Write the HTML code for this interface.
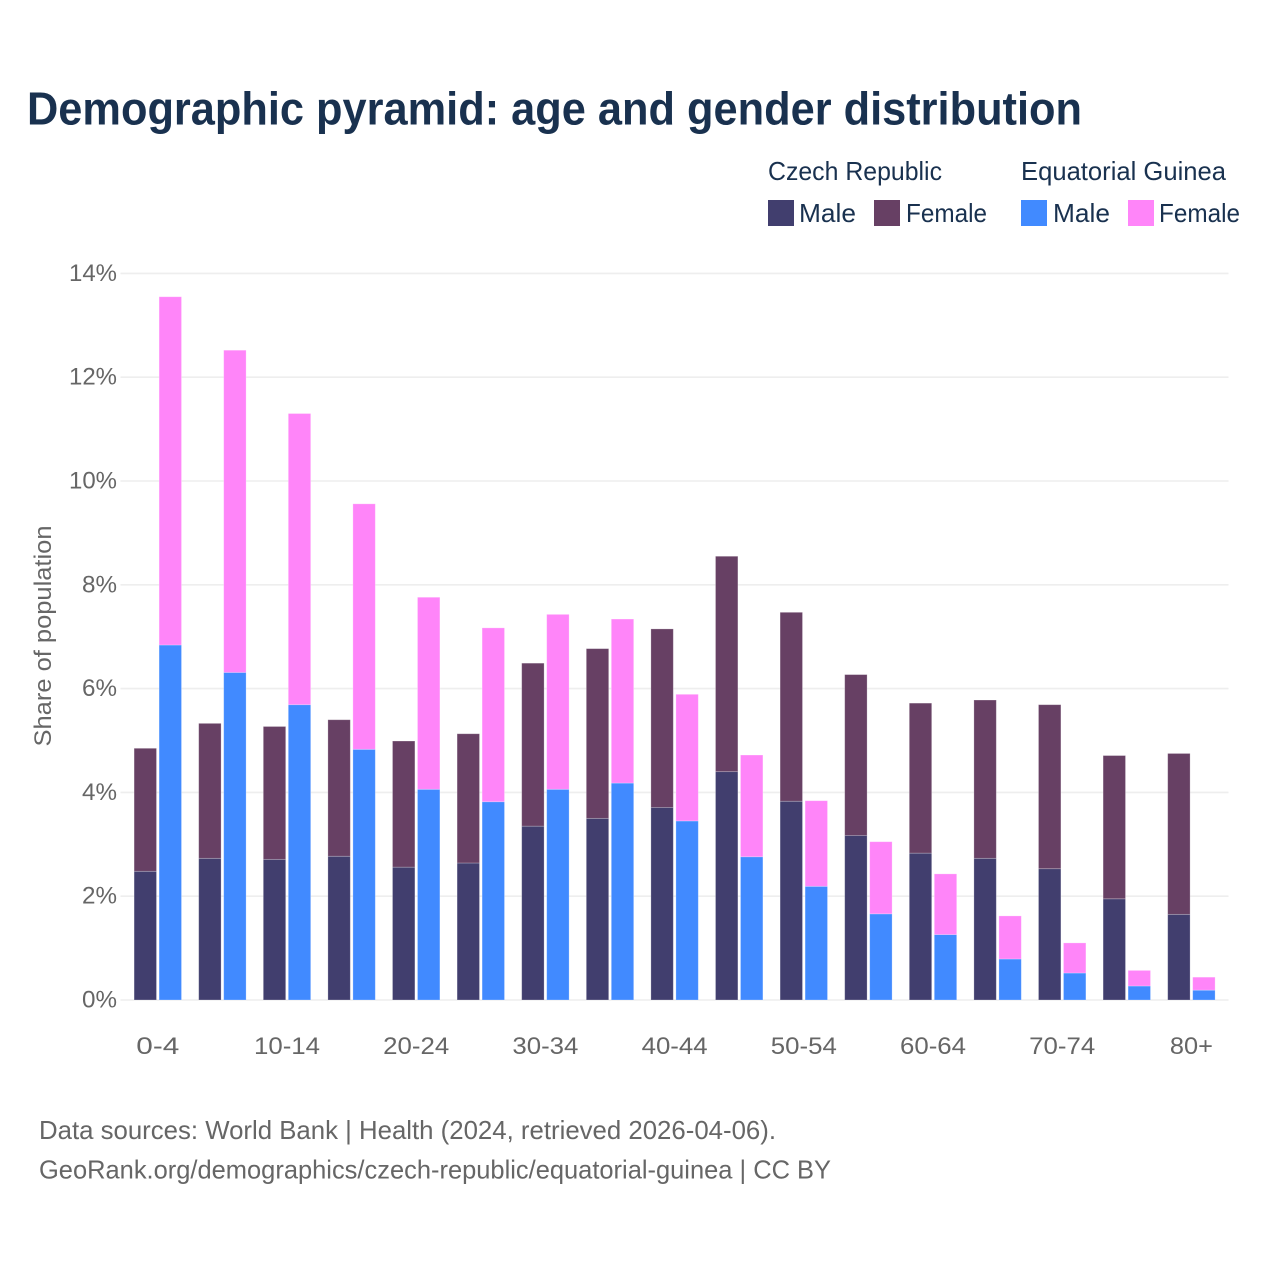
<!DOCTYPE html>
<html lang="en">
<head>
<meta charset="utf-8">
<title>Demographic pyramid: age and gender distribution</title>
<style>
html,body{margin:0;padding:0;background:#fff;}
svg{display:block;}
text{font-family:"Liberation Sans",sans-serif;}
</style>
</head>
<body>
<svg id="chart" xmlns="http://www.w3.org/2000/svg" width="1280" height="1280" viewBox="0 0 1280 1280">
  <rect width="1280" height="1280" fill="#ffffff"/>
  <text x="27" y="124.5" font-size="46" font-weight="700" fill="#19314f" textLength="1055" lengthAdjust="spacingAndGlyphs">Demographic pyramid: age and gender distribution</text>

  <g font-size="26" fill="#19314f">
    <text x="768" y="180" textLength="174" lengthAdjust="spacingAndGlyphs">Czech Republic</text>
    <text x="1021" y="180" textLength="205" lengthAdjust="spacingAndGlyphs">Equatorial Guinea</text>
    <g>
      <rect x="768" y="200" width="26" height="26" fill="#413e6e"/>
      <text x="799" y="222" textLength="57" lengthAdjust="spacingAndGlyphs">Male</text>
    </g>
    <g>
      <rect x="874" y="200" width="26" height="26" fill="#674064"/>
      <text x="906" y="222" textLength="81" lengthAdjust="spacingAndGlyphs">Female</text>
    </g>
    <g>
      <rect x="1021" y="200" width="26" height="26" fill="#418aff"/>
      <text x="1053" y="222" textLength="57" lengthAdjust="spacingAndGlyphs">Male</text>
    </g>
    <g>
      <rect x="1128" y="200" width="26" height="26" fill="#ff85f9"/>
      <text x="1159" y="222" textLength="81" lengthAdjust="spacingAndGlyphs">Female</text>
    </g>
  </g>

  <g id="grid"></g>
  <g id="yticks"></g>
  <g id="bars"></g>
  <g id="xticks"></g>

  <text transform="translate(51,636) rotate(-90)" text-anchor="middle" font-size="24" fill="#666666" textLength="221" lengthAdjust="spacingAndGlyphs">Share of population</text>

  <text x="39" y="1139" font-size="26" fill="#666666" textLength="737" lengthAdjust="spacingAndGlyphs">Data sources: World Bank | Health (2024, retrieved 2026-04-06).</text>
  <text x="39" y="1178.5" font-size="26" fill="#666666" textLength="792" lengthAdjust="spacingAndGlyphs">GeoRank.org/demographics/czech-republic/equatorial-guinea | CC BY</text>
</svg>
<script>
const ageGroups = ['0-4','5-9','10-14','15-19','20-24','25-29','30-34','35-39','40-44','45-49','50-54','55-59','60-64','65-69','70-74','75-79','80+'];
const czechMale = [2.48,2.73,2.71,2.77,2.56,2.64,3.35,3.50,3.71,4.40,3.83,3.17,2.83,2.73,2.53,1.95,1.65];
const czechFemale = [2.37,2.60,2.56,2.63,2.43,2.49,3.14,3.27,3.44,4.15,3.64,3.10,2.89,3.05,3.16,2.76,3.10];
const guineaMale = [6.84,6.31,5.69,4.83,4.06,3.82,4.06,4.18,3.45,2.76,2.19,1.66,1.26,0.79,0.52,0.27,0.19];
const guineaFemale = [6.71,6.21,5.61,4.73,3.70,3.35,3.37,3.16,2.44,1.96,1.65,1.39,1.17,0.83,0.58,0.30,0.25];
const yTicks = [0,2,4,6,8,10,12,14];
const xLabelEvery = 2;

const NS = 'http://www.w3.org/2000/svg';
const yScale = v => 1000 - v * 51.9;
const bandCenter = i => 157.8 + i * 64.6;
const BAR_W = 22.4;
const BAR_GAP = 2.6;

function make(parent, tag, attrs) {
  const el = document.createElementNS(NS, tag);
  for (const k in attrs) el.setAttribute(k, attrs[k]);
  parent.appendChild(el);
  return el;
}

const gridG = document.getElementById('grid');
const yTickG = document.getElementById('yticks');
yTicks.forEach(t => {
  const line = make(gridG, 'line', {x1:120.5, x2:1228.5, y1:yScale(t), y2:yScale(t), stroke:'#eeeeee', 'stroke-width':1.6});
  
  
  const label = make(yTickG, 'text', {x:117, y:yScale(t)+7.5, 'text-anchor':'end', 'font-size':24, fill:'#666666', textLength:String(t).length > 1 ? 48 : 35, lengthAdjust:'spacingAndGlyphs'});
  label.textContent = t + '%';
  
  
});

const barsG = document.getElementById('bars');
function drawBar(x, base, value, fill) {
  const top = yScale(base + value);
  const bottom = yScale(base);
  const r = make(barsG, 'rect', {x:x, y:top, width:BAR_W, height:bottom-top, fill:fill, stroke:'#ffffff', 'stroke-opacity':0.3, 'stroke-width':0.8});
  return r;
}
ageGroups.forEach((g, i) => {
  const c = bandCenter(i);
  const xC = c - BAR_GAP/2 - BAR_W;
  const xG = c + BAR_GAP/2;
  const a = drawBar(xC, 0, czechMale[i], '#413e6e');
  
  
  const b = drawBar(xC, czechMale[i], czechFemale[i], '#674064');
  
  
  const d = drawBar(xG, 0, guineaMale[i], '#418aff');
  
  
  const e = drawBar(xG, guineaMale[i], guineaFemale[i], '#ff85f9');
  
  
});

const xTickG = document.getElementById('xticks');
ageGroups.forEach((g, i) => {
  if (i % xLabelEvery !== 0) return;
  const attrs = {x:bandCenter(i), y:1054, 'text-anchor':'middle', 'font-size':24, fill:'#666666', lengthAdjust:'spacingAndGlyphs'};
  attrs.textLength = g.length >= 5 ? 66 : (g.length === 3 ? 43 : 37);
  const label = make(xTickG, 'text', attrs);
  label.textContent = g;
  
  
});
</script>
</body>
</html>
